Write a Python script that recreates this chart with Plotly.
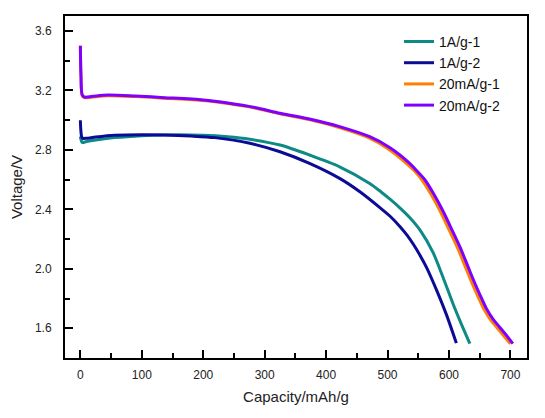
import plotly.graph_objects as go

# 1A/g-1 (teal)
cap_1a_1 = [0, 1, 3, 10, 25, 56, 100, 137, 200, 240, 276, 325, 373, 422, 471, 490, 504, 520, 536, 553, 574, 591, 607, 620, 634]
v_1a_1 = [2.89, 2.87, 2.850, 2.856, 2.866, 2.882, 2.895, 2.90, 2.898, 2.888, 2.871, 2.832, 2.765, 2.686, 2.574, 2.515, 2.468, 2.41, 2.345, 2.26, 2.11, 1.935, 1.76, 1.63, 1.497]

# 1A/g-2 (navy)
cap_1a_2 = [0, 0.5, 2, 4, 10, 25, 56, 100, 137, 180, 219, 276, 325, 373, 422, 455, 488, 505, 520, 532, 542, 553, 564, 580, 596, 612]
v_1a_2 = [2.999, 2.95, 2.89, 2.877, 2.878, 2.886, 2.898, 2.902, 2.90, 2.893, 2.882, 2.844, 2.787, 2.709, 2.608, 2.518, 2.41, 2.35, 2.285, 2.225, 2.165, 2.09, 2.005, 1.855, 1.69, 1.50]

# 20mA/g-1 (orange)
cap_20ma_1 = [0, 1, 3, 7, 20, 45, 90, 137, 200, 240, 284, 325, 372, 420, 468, 500, 532, 545, 557, 571, 587, 601, 614, 626, 636, 647, 657, 668, 679, 690, 700]
v_20ma_1 = [3.50, 3.30, 3.165, 3.150, 3.155, 3.164, 3.158, 3.147, 3.131, 3.111, 3.081, 3.042, 3.003, 2.951, 2.883, 2.809, 2.704, 2.652, 2.592, 2.499, 2.377, 2.255, 2.14, 2.02, 1.918, 1.815, 1.727, 1.655, 1.6, 1.545, 1.495]

# 20mA/g-2 (purple)
cap_20ma_2 = [0, 1, 3, 7, 20, 45, 90, 137, 200, 240, 284, 325, 373, 422, 471, 504, 536, 548, 561, 575, 591, 605, 618, 630, 640, 651, 661, 672, 683, 694, 704]
v_20ma_2 = [3.50, 3.30, 3.17, 3.155, 3.160, 3.169, 3.162, 3.151, 3.135, 3.115, 3.085, 3.046, 3.007, 2.956, 2.888, 2.814, 2.709, 2.657, 2.597, 2.504, 2.382, 2.26, 2.145, 2.025, 1.923, 1.82, 1.732, 1.66, 1.605, 1.55, 1.497]

series = [
    ("1A/g-1", cap_1a_1, v_1a_1, "#0E8A86"),
    ("1A/g-2", cap_1a_2, v_1a_2, "#0B0B96"),
    ("20mA/g-1", cap_20ma_1, v_20ma_1, "#FF8000"),
    ("20mA/g-2", cap_20ma_2, v_20ma_2, "#8000FF"),
]

fig = go.Figure()
for name, x, y, c in series:
    fig.add_trace(go.Scatter(x=x, y=y, name=name, mode="lines",
                             line=dict(color=c, width=3, shape="spline", smoothing=0.8)))

font = "Liberation Sans, Arial, sans-serif"
axis_common = dict(
    showline=True, linecolor="black", linewidth=2, mirror=True,
    ticks="inside", ticklen=8, tickwidth=2, tickcolor="black",
    showgrid=False, zeroline=False, automargin=False,
    tickfont=dict(family=font, size=12, color="#222"),
)
fig.update_xaxes(range=[-25, 727], tick0=0, dtick=100, ticklabelstandoff=5,
                 minor=dict(ticks="inside", ticklen=5, tickwidth=2, tickcolor="black", dtick=50, tick0=0),
                 title=dict(text="Capacity/mAh/g", font=dict(family=font, size=15, color="#222"), standoff=10),
                 **axis_common)
fig.update_yaxes(range=[1.4, 3.7], tick0=1.6, dtick=0.4, tickformat=".1f", ticklabelstandoff=9,
                 minor=dict(ticks="inside", ticklen=5, tickwidth=2, tickcolor="black", dtick=0.2, tick0=1.6),
                 title=dict(text="Voltage/V", font=dict(family=font, size=15, color="#222"), standoff=12),
                 **axis_common)

# page body has an 8px margin, so the figure is sized/offset to compensate
fig.update_layout(
    width=537, height=410,
    margin=dict(l=57, r=18, t=8, b=60),
    plot_bgcolor="white", paper_bgcolor="white",
    showlegend=True,
    legend=dict(x=0.723, y=0.971, xanchor="left", yanchor="top",
                bgcolor="rgba(0,0,0,0)", borderwidth=0,
                font=dict(family=font, size=14, color="#111")),
)

fig.write_html("out.html")
